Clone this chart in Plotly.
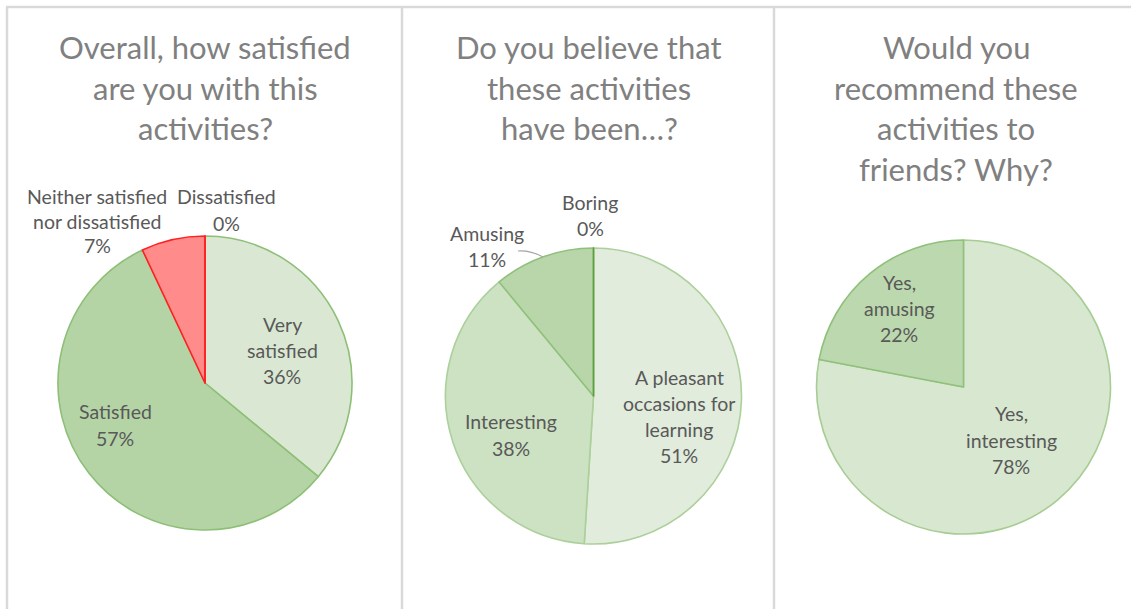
import plotly.graph_objects as go

W, H = 1131, 609

# ---- data ----
titles = [
    ["Overall, how satisfied", "are you with this", "activities?"],
    ["Do you believe that", "these activities", "have been…?"],
    ["Would you", "recommend these", "activities to", "friends? Why?"],
]
q1_labels = ["Very satisfied", "Satisfied", "Neither satisfied nor dissatisfied", "Dissatisfied"]
q1_values = [36, 57, 7, 0]
q2_labels = ["A pleasant occasions for learning", "Interesting", "Amusing", "Boring"]
q2_values = [51, 38, 11, 0]
q3_labels = ["Yes, interesting", "Yes, amusing"]
q3_values = [78, 22]

# label line breaks (display text)
q1_text = [["Very", "satisfied"], ["Satisfied"], ["Neither satisfied", "nor dissatisfied"], ["Dissatisfied"]]
q2_text = [["A pleasant", "occasions for", "learning"], ["Interesting"], ["Amusing"], ["Boring"]]
q3_text = [["Yes,", "interesting"], ["Yes,", "amusing"]]

# ---- styling ----
q1_colors = ["#dae8d3", "#b5d4a6", "#ff8b8b", "#ff8b8b"]
q1_lines = ["#8dbf77", "#8dbf77", "#ff2020", "#ff2020"]
q2_colors = ["#e1ecdc", "#cde2c3", "#b9d6ab", "#b9d6ab"]
q2_lines = ["#acd09b", "#acd09b", "#8fc17a", "#5e9e40"]
q3_colors = ["#d8e7d0", "#bcd8ae"]
q3_lines = ["#a6cd93", "#8fc17a"]

FONT = "Lato"
TITLE_COLOR = "#808080"
LABEL_COLOR = "#595959"


def px_dom(x0, x1, y0, y1):
    return dict(x=[x0 / W, x1 / W], y=[1 - y1 / H, 1 - y0 / H])


fig = go.Figure()
pies = [
    (q1_labels, q1_values, q1_colors, q1_lines, (58, 352, 236, 530)),
    (q2_labels, q2_values, q2_colors, q2_lines, (445.5, 741.5, 248, 544)),
    (q3_labels, q3_values, q3_colors, q3_lines, (816.5, 1110.5, 240, 534)),
]
for labels, values, colors, lines, dom in pies:
    fig.add_trace(go.Pie(
        labels=labels, values=values, sort=False, direction="clockwise", rotation=0,
        domain=px_dom(*dom), textinfo="none", hoverinfo="label+percent",
        marker=dict(colors=colors, line=dict(color=lines, width=1.6)),
        showlegend=False,
    ))

annotations = []


def add_lines(lines, cx, y_first, step, size, color):
    for i, t in enumerate(lines):
        annotations.append(dict(
            x=cx / W, y=1 - (y_first + i * step) / H, xref="paper", yref="paper",
            text=t, showarrow=False, xanchor="center", yanchor="middle",
            font=dict(family=FONT, size=size, color=color),
        ))


# titles
for t, cx in zip(titles, [205, 589, 956]):
    add_lines(t, cx, 47, 40.5, 31, TITLE_COLOR)

LS = 26
LF = 19.5


def pct(values, i):
    return f"{round(100 * values[i] / sum(values))}%"


# panel 1 labels
add_lines(q1_text[2] + [pct(q1_values, 2)], 97, 196, 25, LF, LABEL_COLOR)
add_lines(q1_text[3] + [pct(q1_values, 3)], 226, 196, 27, LF, LABEL_COLOR)
add_lines(q1_text[0] + [pct(q1_values, 0)], 282, 324, LS, LF, LABEL_COLOR)
add_lines(q1_text[1] + [pct(q1_values, 1)], 115, 412, LS, LF, LABEL_COLOR)
# panel 2 labels
add_lines(q2_text[3] + [pct(q2_values, 3)], 590, 202, LS, LF, LABEL_COLOR)
add_lines(q2_text[2] + [pct(q2_values, 2)], 487, 233, LS, LF, LABEL_COLOR)
add_lines(q2_text[1] + [pct(q2_values, 1)], 511, 421, 27, LF, LABEL_COLOR)
add_lines(q2_text[0] + [pct(q2_values, 0)], 679, 377, 26.3, LF, LABEL_COLOR)
# panel 3 labels
add_lines(q3_text[1] + [pct(q3_values, 1)], 899, 282, LS, LF, LABEL_COLOR)
add_lines(q3_text[0] + [pct(q3_values, 0)], 1011, 414, LS, LF, LABEL_COLOR)

shapes = []
BORDER = "#d9d9d9"


def px_line(x0, y0, x1, y1, w):
    shapes.append(dict(type="line", xref="paper", yref="paper",
                       x0=x0 / W, x1=x1 / W, y0=1 - y0 / H, y1=1 - y1 / H,
                       line=dict(color=BORDER, width=w), layer="below"))


px_line(6, 7, W, 7, 2.5)
for x in [7, 402, 774]:
    px_line(x, 7, x, H, 2.5)

# leader line for "Amusing"
shapes.append(dict(type="path", xref="paper", yref="paper",
                   path=f"M {518 / W},{1 - 251 / H} Q {530 / W},{1 - 250 / H} {543 / W},{1 - 257 / H}",
                   line=dict(color="#a6a6a6", width=1.2)))

fig.update_layout(
    width=W, height=H, margin=dict(l=0, r=0, t=0, b=0),
    paper_bgcolor="white", plot_bgcolor="white",
    annotations=annotations, shapes=shapes,
)
fig.write_html("out.html", config={"displayModeBar": False},
               post_script="document.body.style.margin='0';document.body.style.overflow='hidden';")
